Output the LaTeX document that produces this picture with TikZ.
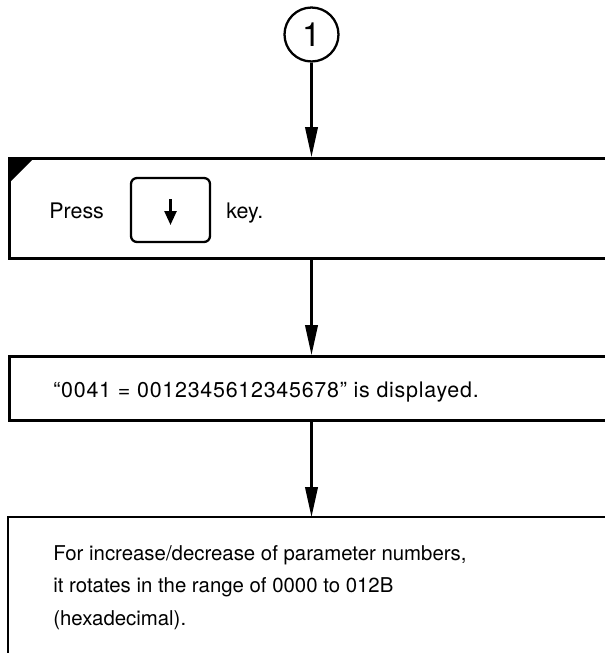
\documentclass[tikz,border=0pt]{standalone}
\usepackage{fontspec}
\setmainfont{TeX Gyre Heros}
\usetikzlibrary{arrows.meta}

\begin{document}
\begin{tikzpicture}[x=0.02cm, y=-0.02cm,
    stepbox/.style={draw, line width=1.5pt, minimum width=12.64cm, anchor=north west, inner sep=0pt},
    flow/.style={line width=1.3pt, -{Triangle[length=0.6cm, width=0.25cm]}},
    txt/.style={anchor=base west, inner sep=0pt, font=\fontsize{12.2}{18.4}\selectfont}]

      \useasboundingbox (0,0) rectangle (605,653);
      \clip (0,0) rectangle (605,653);

      % Start circle
      \node[draw, circle, line width=1.3pt, minimum size=1.08cm, inner sep=0pt,
            font=\fontsize{19}{19}\selectfont] (one) at (311.5,34.5) {1};

      % Boxes (open to the right)
      \node[stepbox, minimum height=2cm] (press) at (8,157) {};
      \node[stepbox, minimum height=1.28cm] (shown) at (8,355) {};
      \node[stepbox, draw=none, minimum height=2.7cm] (range) at (8,517) {};
      \draw[line width=1.5pt] (range.south west) -- (range.north west) -- (range.north east);
      \draw[line width=1.5pt] (range.south west) -- ++(257,0);

      % Corner mark
      \fill (press.north west) -- ++(27,0) -- ++(-27,27) -- cycle;

      % Key
      \node[draw, rounded corners=0.12cm, line width=1.3pt, minimum width=1.58cm,
            minimum height=1.28cm] (keybtn) at (170.5,210) {};
      \draw[line width=1.4pt, -{Triangle[length=0.28cm, width=0.24cm]}]
            ([yshift=0.22cm]keybtn.center) -- ([yshift=-0.3cm]keybtn.center);

      % Texts
      \node[txt] (presstxt) at (49,218) {Press};
      \node[txt] (keytxt) at (226,218) {key.};
      \node[txt] (showntxt) at (53,397)
            {\addfontfeature{LetterSpace=3.5}“0041 = 0012345612345678” is displayed.};
      \node[txt, anchor=north west, align=left, font=\fontsize{11.6}{18.6}\selectfont]
            (rangetxt) at (53,545)
            {For increase/decrease of parameter numbers,\\
             it rotates in the range of 0000 to 012B\\
             (hexadecimal).};

      % Arrows
      \draw[flow] (one) -- (one |- press.north);
      \draw[flow] (one |- press.south) -- (one |- shown.north);
      \draw[flow] (one |- shown.south) -- (one |- range.north);

\end{tikzpicture}
\end{document}
